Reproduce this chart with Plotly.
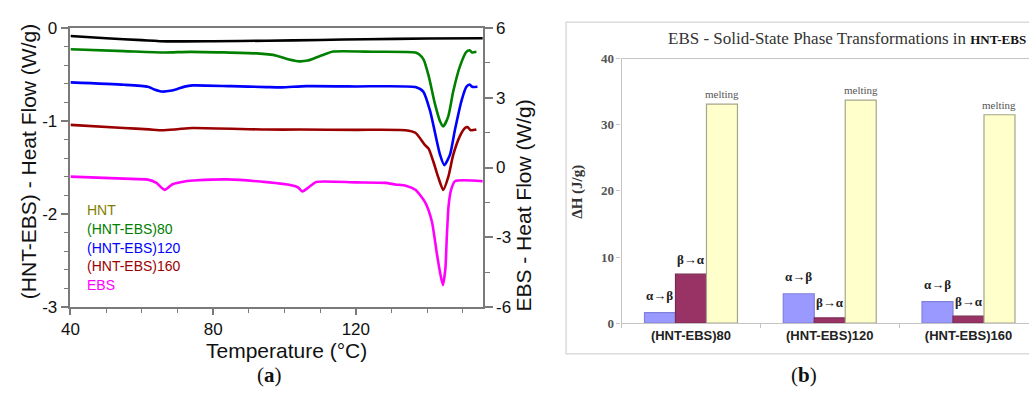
import plotly.graph_objects as go

# ---------------- Panel (a): DSC curves ----------------
hnt_T = [40, 50, 60, 67, 80, 95, 110, 123, 140, 155.6]
hnt_hf = [-0.085, -0.11, -0.13, -0.143, -0.142, -0.136, -0.128, -0.12, -0.113, -0.11]

e80_T = [40, 55, 66.4, 73.6, 92.2, 97.8, 101, 104.2, 106.5, 108.9, 111.5, 113.6, 125, 136.7,
         137.8, 139, 140.4, 142.2, 143.6, 144.5, 145.9, 147.3, 149.2, 151, 151.9, 152.6, 153.8]
e80_hf = [-0.228, -0.248, -0.263, -0.256, -0.273, -0.297, -0.335, -0.358, -0.35, -0.317, -0.28, -0.253,
          -0.255, -0.263, -0.285, -0.34, -0.512, -0.819, -1.003, -1.058, -0.952, -0.683, -0.41, -0.256,
          -0.239, -0.263, -0.256]

e120_T = [40, 55, 61.7, 63.5, 65.8, 68, 70, 72, 74.2, 85, 95, 99.2, 106.1, 120, 136.7, 138.9,
          140.8, 142.2, 143.6, 144.8, 146.4, 147.8, 149.6, 151, 151.9, 152.6, 154.1]
e120_hf = [-0.584, -0.61, -0.632, -0.66, -0.683, -0.675, -0.655, -0.63, -0.617, -0.625, -0.635, -0.638,
           -0.625, -0.628, -0.635, -0.683, -0.888, -1.126, -1.362, -1.474, -1.362, -1.092, -0.785,
           -0.632, -0.607, -0.632, -0.632]

e160_T = [40, 55, 62, 65.8, 70, 74.2, 95, 104.2, 120, 133.9, 136.7, 139.4, 140.4, 141.7, 143.1,
          144.5, 145.9, 147.3, 149.2, 150.6, 151.3, 152.2, 153.8]
e160_hf = [-1.041, -1.075, -1.09, -1.099, -1.088, -1.075, -1.092, -1.092, -1.095, -1.099, -1.126,
           -1.259, -1.297, -1.433, -1.604, -1.741, -1.604, -1.365, -1.16, -1.075, -1.065, -1.099, -1.092]

ebs_T = [40, 55, 61.7, 64, 66.4, 68.6, 72, 75.6, 83.9, 95, 101.9, 103.8, 105, 106.9, 108.9, 120,
         128.3, 131.1, 134, 136.7, 139.4, 141.3, 142.7, 143.6, 144.4, 145.1, 145.5, 146, 146.7,
         147.8, 155.6]
ebs_hf = [-0.39, -0.48, -0.52, -0.65, -0.96, -0.72, -0.6, -0.55, -0.51, -0.63, -0.76, -0.85, -1.03,
          -0.84, -0.62, -0.64, -0.66, -0.73, -0.78, -0.96, -1.49, -2.31, -3.69, -4.51, -5.06, -4.36,
          -3.01, -1.65, -0.96, -0.59, -0.59]

left_ticks = [-3, -2, -1, 0]
left_ticktext = ["-3", "-2", "-1", "0"]
right_ticks = [-6, -3, 0, 3, 6]
right_ticktext = ["-6", "-3", "0", "3", "6"]
x_ticks = [40, 80, 120]

legend_names = ["HNT", "(HNT-EBS)80", "(HNT-EBS)120", "(HNT-EBS)160", "EBS"]
legend_colors = ["#808000", "#008000", "#0000ff", "#9b0000", "#ff00ff"]

# ---------------- Panel (b): enthalpy bars ----------------
samples = ["(HNT-EBS)80", "(HNT-EBS)120", "(HNT-EBS)160"]
dh_alpha_beta = [1.6, 4.45, 3.25]
dh_beta_alpha = [7.4, 0.8, 1.05]
dh_melting = [33.1, 33.7, 31.5]
bar_labels = ["α→β", "β→α", "melting"]

fig = go.Figure()

line_series = [
    (hnt_T, hnt_hf, "#000000", "y"),
    (e80_T, e80_hf, "#008000", "y"),
    (e120_T, e120_hf, "#0000ff", "y"),
    (e160_T, e160_hf, "#9b0000", "y"),
    (ebs_T, ebs_hf, "#ff00ff", "y2"),
]
for xs, ys, col, ya in line_series:
    fig.add_trace(go.Scatter(x=xs, y=ys, mode="lines",
                             line=dict(color=col, width=2.6, shape="spline", smoothing=0.6),
                             xaxis="x", yaxis=ya, showlegend=False, hoverinfo="skip"))

bar_colors = ["#9999ff", "#993366", "#ffffcc"]
bar_edges = ["#8080dd", "#7a2a52", "#a5a58a"]
for vals, col, edge, nm in zip([dh_alpha_beta, dh_beta_alpha, dh_melting], bar_colors, bar_edges, bar_labels):
    fig.add_trace(go.Bar(x=samples, y=vals, name=nm, marker=dict(color=col, line=dict(color=edge, width=1.2)),
                         xaxis="x2", yaxis="y3", showlegend=False, hoverinfo="skip"))

W, H = 1029, 396
px = lambda v: v / W
py = lambda v: 1 - v / H

axcol = "#7a7a7a"
sans = "Liberation Sans"
serif = "Liberation Serif"

fig.update_layout(
    width=W, height=H, autosize=False,
    margin=dict(l=0, r=0, t=0, b=0),
    paper_bgcolor="white", plot_bgcolor="white",
    barmode="group", bargap=0.33, bargroupgap=0,
    xaxis=dict(domain=[px(62), px(478)], range=[40, 155.6], anchor="y",
               tickmode="array", tickvals=x_ticks, ticks="outside", ticklen=6, tickwidth=1.5,
               tickcolor=axcol, showline=True, linecolor=axcol, linewidth=1.5, mirror=True,
               minor=dict(ticks="outside", ticklen=4, tickmode="linear", tick0=40, dtick=10,
                          tickcolor=axcol, tickwidth=1.2),
               tickfont=dict(family=sans, size=17, color="#111"), showgrid=False, zeroline=False),
    yaxis=dict(domain=[py(313), py(20)], range=[-3, 0], anchor="x",
               tickmode="array", tickvals=left_ticks, ticktext=left_ticktext,
               ticks="outside", ticklen=8, tickwidth=1.5, tickcolor=axcol,
               showline=True, linecolor=axcol, linewidth=1.5,
               minor=dict(ticks="outside", ticklen=5, tickmode="linear", tick0=0, dtick=0.2,
                          tickcolor=axcol, tickwidth=1.2),
               tickfont=dict(family=sans, size=17, color="#111"), showgrid=False, zeroline=False),
    yaxis2=dict(overlaying="y", side="right", anchor="x", range=[-6, 6],
                tickmode="array", tickvals=right_ticks, ticktext=right_ticktext,
                ticks="outside", ticklen=8, tickwidth=1.5, tickcolor=axcol,
                showline=True, linecolor=axcol, linewidth=1.5,
                minor=dict(ticks="outside", ticklen=5, tickmode="linear", tick0=0, dtick=1.5,
                           tickcolor=axcol, tickwidth=1.2),
                tickfont=dict(family=sans, size=17, color="#111"), showgrid=False, zeroline=False),
    xaxis2=dict(domain=[px(618), 1.0], anchor="y3", type="category", range=[-0.5, 2.436],
                showline=True, mirror=True, linecolor="#c4c4c4", linewidth=1.2,
                ticks="outside", tickson="boundaries", ticklen=4, tickcolor="#c4c4c4",
                tickfont=dict(family=sans, size=13, color="#222", weight="bold"),
                showgrid=False, zeroline=False),
    yaxis3=dict(domain=[py(330), py(52)], anchor="x2", range=[0, 40], dtick=10, tick0=0,
                showline=True, linecolor="#c4c4c4", linewidth=1.2,
                ticks="outside", ticklen=4, tickcolor="#c4c4c4",
                tickfont=dict(family=serif, size=13, color="#555", weight="bold"),
                showgrid=False, zeroline=False),
)

ann = []
# axis titles panel (a)
ann.append(dict(text="(HNT-EBS) - Heat Flow (W/g)", x=px(19), y=py(160), xref="paper", yref="paper",
                textangle=-90, showarrow=False, font=dict(family=sans, size=21, color="#111"),
                xanchor="center", yanchor="middle"))
ann.append(dict(text="EBS - Heat Flow (W/g)", x=px(519), y=py(206), xref="paper", yref="paper",
                textangle=-90, showarrow=False, font=dict(family=sans, size=21, color="#111"),
                xanchor="center", yanchor="middle"))
ann.append(dict(text="Temperature (°C)", x=px(280), y=py(359), xref="paper", yref="paper",
                showarrow=False, font=dict(family=sans, size=21, color="#111"),
                xanchor="center", yanchor="middle", borderpad=0))
ann.append(dict(text="(<b>a</b>)", x=px(263), y=py(384), xref="paper", yref="paper",
                showarrow=False, font=dict(family=serif, size=21, color="#111"),
                xanchor="center", yanchor="middle"))
ann.append(dict(text="(<b>b</b>)", x=px(802), y=py(384), xref="paper", yref="paper",
                showarrow=False, font=dict(family=serif, size=21, color="#111"),
                xanchor="center", yanchor="middle"))
# text legend panel (a)
for i, (nm, col) in enumerate(zip(legend_names, legend_colors)):
    ann.append(dict(text=nm, x=px(77), y=py(211 + i * 19.8), xref="paper", yref="paper",
                    showarrow=False, font=dict(family=sans, size=14, color=col),
                    xanchor="left", yanchor="middle"))
# panel (b) titles
ann.append(dict(text="EBS - Solid-State Phase Transformations in "
                     "<span style='font-size:13px;font-weight:bold;color:#111'>HNT-EBS</span>",
                x=px(663), y=py(31), xref="paper", yref="paper", showarrow=False,
                font=dict(family=serif, size=17, color="#333"), xanchor="left", yanchor="middle"))
ann.append(dict(text="<b>ΔH (J/g)</b>", x=px(574), y=py(192), xref="paper", yref="paper",
                textangle=-90, showarrow=False, font=dict(family=serif, size=15, color="#333"),
                xanchor="center", yanchor="middle"))
# bar labels
bw = (1 - 0.33) / 3
for k, (vals, lab) in enumerate(zip([dh_alpha_beta, dh_beta_alpha, dh_melting], bar_labels)):
    for i, v in enumerate(vals):
        if lab == "melting":
            f = dict(family=serif, size=11, color="#555")
            ys = 10
        else:
            f = dict(family=serif, size=13, color="#222", weight="bold")
            ys = 17 if lab == "α→β" else 15
        ann.append(dict(text=lab, x=i + (k - 1) * bw, y=v, xref="x2", yref="y3", showarrow=False,
                        yshift=ys, font=f, xanchor="center", yanchor="middle"))

fig.update_layout(annotations=ann)
fig.add_shape(type="rect", xref="paper", yref="paper", x0=px(562), x1=1.01, y0=py(362), y1=py(14),
              line=dict(color="#dcdcdc", width=1.5), fillcolor="rgba(0,0,0,0)", layer="below")

fig.write_html("out.html")
